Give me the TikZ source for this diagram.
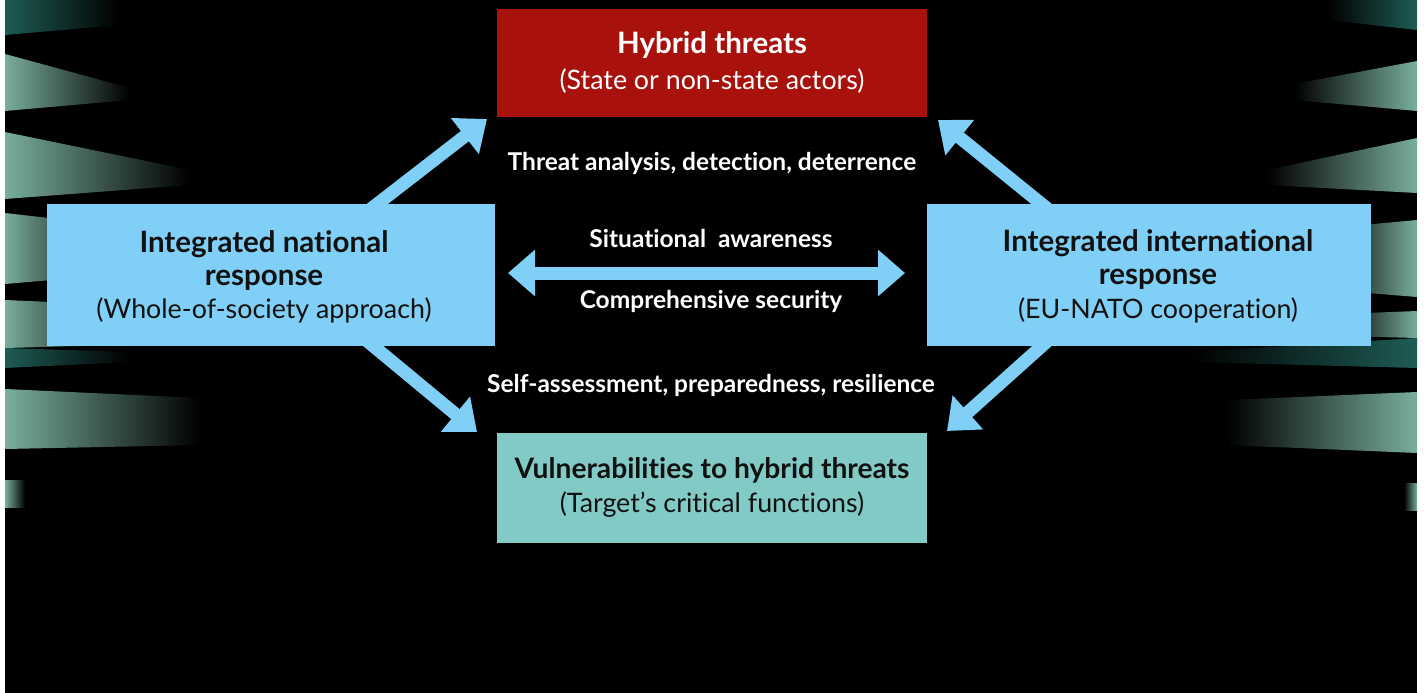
\documentclass[tikz,border=0pt]{standalone}
\usepackage{fontspec}
\setmainfont{Lato}[Ligatures=NoCommon]
\usetikzlibrary{arrows.meta}
\definecolor{lblue}{HTML}{80CFF6}
\definecolor{hred}{HTML}{A8110C}
\definecolor{vteal}{HTML}{82CAC6}
\definecolor{stripeA}{HTML}{79AE9E}
\definecolor{stripeB}{HTML}{1F655C}
\definecolor{stripeC}{HTML}{1E5C55}
\definecolor{stripeD}{HTML}{0F3532}
\definecolor{ink}{HTML}{111111}
\begin{document}
\begin{tikzpicture}[x=1pt,y=-1pt,
  boxnode/.style={inner sep=0pt,outer sep=0pt,anchor=north west,draw=none},
  titletext/.style={anchor=base,inner sep=0pt,text=ink,font=\fontsize{29.5}{34}\selectfont\bfseries},
  subtext/.style={anchor=base,inner sep=0pt,text=ink,font=\fontsize{26.8}{31}\selectfont},
  midtext/.style={anchor=base,inner sep=0pt,text=white,font=\fontsize{24.5}{29}\selectfont\bfseries},
  bigarrow/.style={draw=lblue,line width=13pt,-{Triangle[length=28pt,width=44pt]}},
  dblarrow/.style={draw=lblue,line width=13pt,{Triangle[length=27pt,width=45pt]}-{Triangle[length=27pt,width=45pt]}},
  lstripe/.style={left color=stripeA,middle color=stripeB,right color=black,draw=none},
  rstripe/.style={right color=stripeA,middle color=stripeB,left color=black,draw=none},
  ldark/.style={left color=stripeC,middle color=stripeD,right color=black,draw=none},
  rdark/.style={right color=stripeC,middle color=stripeD,left color=black,draw=none}]
\useasboundingbox (0,0) rectangle (1424,693);
% page and background
\fill[white] (0,0) rectangle (1424,693);
\fill[black] (5,0) rectangle (1417,693);
% left stripes
\shade[ldark] (5,0) -- (120,0) -- (120,25) -- (5,35) -- cycle;
\shade[lstripe] (5,54) -- (130,88) -- (130,100) -- (5,111) -- cycle;
\shade[lstripe] (5,132) -- (190,170) -- (190,185) -- (5,199) -- cycle;
\shade[lstripe] (5,213) -- (110,225) -- (110,275) -- (5,284) -- cycle;
\shade[lstripe] (5,300) -- (120,305) -- (120,345) -- (5,348) -- cycle;
\shade[ldark] (5,348) -- (130,352) -- (130,362) -- (5,368) -- cycle;
\shade[lstripe] (5,389) -- (200,398) -- (200,445) -- (5,449) -- cycle;
\shade[lstripe] (5,480) -- (25,480) -- (25,507) -- (5,507) -- cycle;
% right stripes
\shade[rdark] (1417,0) -- (1327,0) -- (1327,20) -- (1417,30) -- cycle;
\shade[rstripe] (1417,61) -- (1294,84) -- (1294,100) -- (1417,111) -- cycle;
\shade[rstripe] (1417,138) -- (1267,170) -- (1267,185) -- (1417,193) -- cycle;
\shade[rstripe] (1417,220) -- (1330,228) -- (1330,290) -- (1417,297) -- cycle;
\shade[rstripe] (1417,311) -- (1340,314) -- (1340,336) -- (1417,338) -- cycle;
\shade[rdark] (1417,338) -- (1190,352) -- (1190,362) -- (1417,368) -- cycle;
\shade[rstripe] (1417,392) -- (1227,400) -- (1227,445) -- (1417,453) -- cycle;
\shade[rstripe] (1417,483) -- (1404,483) -- (1404,510) -- (1417,510) -- cycle;
% arrow end points
\coordinate (a1s) at (369.5,210);
\coordinate (a1e) at (487,119);
\coordinate (a2s) at (1049,210);
\coordinate (a2e) at (938,120);
\coordinate (a3s) at (366,340);
\coordinate (a3e) at (477,432);
\coordinate (a4s) at (1048.6,340);
\coordinate (a4e) at (947,431);
\coordinate (hl) at (508,273);
\coordinate (hr) at (905,273);
\draw[bigarrow] (a1s) -- (a1e);
\draw[bigarrow] (a2s) -- (a2e);
\draw[bigarrow] (a3s) -- (a3e);
\draw[bigarrow] (a4s) -- (a4e);
\draw[dblarrow] (hl) -- (hr);
% boxes
\node[boxnode,fill=hred,minimum width=430pt,minimum height=108pt] (hyb) at (497,9) {};
\node[boxnode,fill=lblue,minimum width=448pt,minimum height=142pt] (nat) at (47,204) {};
\node[boxnode,fill=lblue,minimum width=444pt,minimum height=142pt] (intl) at (927,204) {};
\node[boxnode,fill=vteal,minimum width=430pt,minimum height=110pt] (vul) at (497,433) {};
% box texts
\node[titletext,text=white] (hybA) at (712,53) {Hybrid threats};
\node[subtext,text=white] (hybB) at (712,89) {(State or non-state actors)};
\node[titletext] (natA) at (264,252) {Integrated national};
\node[titletext] (natB) at (264,285) {response};
\node[subtext] (natC) at (264,318) {(Whole-of-society approach)};
\node[titletext] (intlA) at (1158,251) {Integrated international};
\node[titletext] (intlB) at (1158,284) {response};
\node[subtext] (intlC) at (1158,318) {(EU-NATO cooperation)};
\node[titletext,font=\fontsize{28.2}{33}\selectfont\bfseries] (vulA) at (712,478) {Vulnerabilities to hybrid threats};
\node[subtext] (vulB) at (712,512) {(Target’s critical functions)};
% middle labels
\node[midtext] (lab1) at (712,170) {Threat analysis, detection, deterrence};
\node[midtext] (lab2) at (711,247) {Situational\ \ awareness};
\node[midtext] (lab3) at (711,308) {Comprehensive security};
\node[midtext] (lab4) at (711,392) {Self-assessment, preparedness, resilience};
\end{tikzpicture}
\end{document}
